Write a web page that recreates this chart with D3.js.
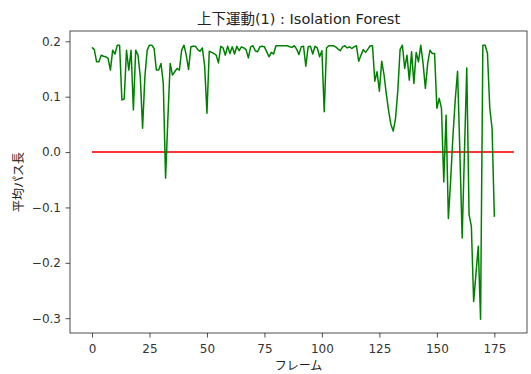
<!DOCTYPE html>
<html>
<head>
<meta charset="utf-8">
<script src="https://cdn.jsdelivr.net/npm/d3@7"></script>
<style>
  html, body { margin: 0; padding: 0; background: #fff; }
  svg { display: block; font-family: "DejaVu Sans", "Noto Sans CJK JP", sans-serif; }
</style>
</head>
<body>
<svg id="chart" width="531" height="374"></svg>
<script>
// Mean path length per frame (Isolation Forest score)
const pathLength = [
  0.189, 0.185, 0.163, 0.163, 0.175, 0.173, 0.172, 0.169, 0.148, 0.184,
  0.177, 0.193, 0.193, 0.094, 0.096, 0.184, 0.148, 0.184, 0.076, 0.184,
  0.175, 0.136, 0.043, 0.136, 0.184, 0.193, 0.193, 0.187, 0.148, 0.148,
  0.160, 0.124, -0.047, 0.060, 0.160, 0.139, 0.145, 0.151, 0.148, 0.184,
  0.193, 0.175, 0.149, 0.190, 0.191, 0.191, 0.185, 0.182, 0.188, 0.155,
  0.070, 0.182, 0.180, 0.178, 0.175, 0.161, 0.191, 0.188, 0.175, 0.191,
  0.178, 0.190, 0.177, 0.191, 0.183, 0.190, 0.188, 0.185, 0.170, 0.190,
  0.192, 0.183, 0.181, 0.190, 0.191, 0.190, 0.181, 0.172, 0.180, 0.177,
  0.192, 0.192, 0.192, 0.192, 0.192, 0.192, 0.190, 0.189, 0.192, 0.186,
  0.176, 0.190, 0.191, 0.155, 0.190, 0.191, 0.177, 0.191, 0.188, 0.172,
  0.183, 0.073, 0.188, 0.192, 0.192, 0.192, 0.190, 0.186, 0.183, 0.190,
  0.192, 0.188, 0.190, 0.187, 0.190, 0.192, 0.164, 0.175, 0.185, 0.180,
  0.186, 0.192, 0.192, 0.128, 0.145, 0.110, 0.164, 0.140, 0.105, 0.075,
  0.050, 0.038, 0.060, 0.110, 0.185, 0.193, 0.151, 0.175, 0.130, 0.181,
  0.124, 0.180, 0.163, 0.193, 0.160, 0.115, 0.160, 0.184, 0.178, 0.178,
  0.079, 0.097, 0.079, -0.054, 0.067, -0.120, -0.050, 0.030, 0.095, 0.146,
  0.000, -0.155, 0.000, 0.152, -0.113, -0.134, -0.270, -0.220, -0.170, -0.302,
  0.193, 0.193, 0.178, 0.080, 0.043, -0.117
];

// Threshold line at zero
const thresholdValue = 0;
const thresholdSpan = [0, 183.5];

const xTicks = [0, 25, 50, 75, 100, 125, 150, 175];
const yTicks = [-0.3, -0.2, -0.1, 0.0, 0.1, 0.2];

const titleText = "上下運動(1) : Isolation Forest";
const xLabel = "フレーム";
const yLabel = "平均パス長";

const svg = d3.select("#chart");
const plot = { left: 70, top: 31, right: 527, bottom: 333 };

const x = d3.scaleLinear().domain([-9.57, 189.2]).range([plot.left, plot.right]);
const y = d3.scaleLinear().domain([-0.3267, 0.2186]).range([plot.bottom, plot.top]);

const fmtY = v => (v < 0 ? "\u2212" : "") + Math.abs(v).toFixed(1);

// Axes
const xAxis = svg.append("g")
  .attr("transform", `translate(0,${plot.bottom})`)
  .call(d3.axisBottom(x).tickValues(xTicks).tickSize(4.5).tickPadding(6.5).tickFormat(d3.format("d")));
const yAxis = svg.append("g")
  .attr("transform", `translate(${plot.left},0)`)
  .call(d3.axisLeft(y).tickValues(yTicks).tickSize(4.5).tickPadding(4.5).tickFormat(fmtY));

[xAxis, yAxis].forEach(g => {
  g.select(".domain").remove();
  g.selectAll(".tick line").attr("stroke", "#222").attr("stroke-width", 0.8);
  g.selectAll(".tick text").attr("fill", "#333").style("font-size", "12px")
    .style("font-family", "'DejaVu Sans', sans-serif");
});

// Frame box
svg.append("rect")
  .attr("x", plot.left).attr("y", plot.top)
  .attr("width", plot.right - plot.left).attr("height", plot.bottom - plot.top)
  .attr("fill", "none").attr("stroke", "#222").attr("stroke-width", 0.8);

// Threshold line
svg.append("line")
  .attr("x1", x(thresholdSpan[0])).attr("x2", x(thresholdSpan[1]))
  .attr("y1", y(thresholdValue)).attr("y2", y(thresholdValue))
  .attr("stroke", "#ff0000").attr("stroke-opacity", 0.8).attr("stroke-width", 2);

// Score line
const line = d3.line().x((d, i) => x(i)).y(d => y(d));
svg.append("path")
  .datum(pathLength)
  .attr("d", line)
  .attr("fill", "none")
  .attr("stroke", "#008000")
  .attr("stroke-width", 1.5)
  .attr("stroke-linejoin", "round");

// Title and labels
svg.append("text")
  .attr("x", (plot.left + plot.right) / 2).attr("y", plot.top - 7)
  .attr("text-anchor", "middle").attr("fill", "#222")
  .style("font-size", "14.5px")
  .text(titleText);

svg.append("text")
  .attr("x", (plot.left + plot.right) / 2).attr("y", 370)
  .attr("text-anchor", "middle").attr("fill", "#222")
  .style("font-size", "12px")
  .text(xLabel);

svg.append("text")
  .attr("transform", `translate(23,${(plot.top + plot.bottom) / 2}) rotate(-90)`)
  .attr("text-anchor", "middle").attr("fill", "#222")
  .style("font-size", "12px")
  .text(yLabel);
</script>
</body>
</html>
